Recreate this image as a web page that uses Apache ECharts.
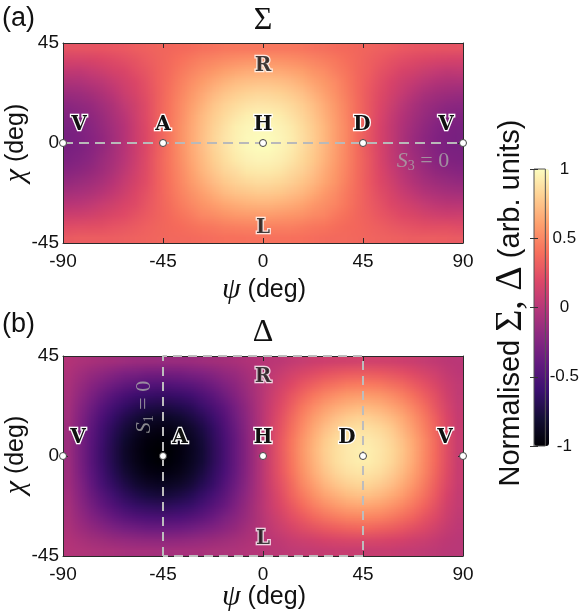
<!DOCTYPE html>
<html>
<head>
<meta charset="utf-8">
<script src="https://cdn.jsdelivr.net/npm/echarts@6/dist/echarts.min.js"></script>
<style>
  html, body { margin: 0; padding: 0; background: #fff; }
  #wrap { position: relative; width: 582px; height: 616px; }
  #chart { position: absolute; left: 0; top: 0; width: 582px; height: 616px; z-index: 2; }
  .heat { position: absolute; transform-origin: 0 0; z-index: 1; }
</style>
</head>
<body>
<div id="wrap">
  <div id="heatA" class="heat"></div>
  <div id="heatB" class="heat"></div>
  <div id="chart"></div>
</div>
<script>
// cell centres (deg)
const psiCenters = [-87.5,-82.5,-77.5,-72.5,-67.5,-62.5,-57.5,-52.5,-47.5,-42.5,-37.5,-32.5,-27.5,-22.5,-17.5,-12.5,-7.5,-2.5,
                    2.5,7.5,12.5,17.5,22.5,27.5,32.5,37.5,42.5,47.5,52.5,57.5,62.5,67.5,72.5,77.5,82.5,87.5];
const chiCenters = [-42.5,-37.5,-32.5,-27.5,-22.5,-17.5,-12.5,-7.5,-2.5,2.5,7.5,12.5,17.5,22.5,27.5,32.5,37.5,42.5];

// Sigma, rows from chi = -42.5 (bottom) to 42.5 (top)
const sigmaRows = [
  [0.29,0.30,0.30,0.30,0.31,0.32,0.33,0.34,0.35,0.36,0.37,0.37,0.38,0.39,0.40,0.40,0.41,0.41,0.41,0.41,0.40,0.40,0.39,0.38,0.37,0.37,0.36,0.35,0.34,0.33,0.32,0.31,0.30,0.30,0.30,0.29],
  [0.18,0.19,0.20,0.21,0.23,0.25,0.28,0.31,0.34,0.37,0.39,0.42,0.45,0.47,0.49,0.50,0.51,0.52,0.52,0.51,0.50,0.49,0.47,0.45,0.42,0.39,0.37,0.34,0.31,0.28,0.25,0.23,0.21,0.20,0.19,0.18],
  [0.08,0.08,0.10,0.13,0.16,0.19,0.23,0.28,0.33,0.37,0.42,0.47,0.51,0.54,0.58,0.60,0.62,0.62,0.62,0.62,0.60,0.58,0.54,0.51,0.47,0.42,0.37,0.33,0.28,0.23,0.19,0.16,0.13,0.10,0.08,0.08],
  [-0.02,-0.01,0.01,0.05,0.09,0.14,0.19,0.25,0.32,0.38,0.45,0.51,0.56,0.61,0.66,0.69,0.71,0.72,0.72,0.71,0.69,0.66,0.61,0.56,0.51,0.45,0.38,0.32,0.25,0.19,0.14,0.09,0.05,0.01,-0.01,-0.02],
  [-0.11,-0.09,-0.07,-0.03,0.03,0.09,0.16,0.23,0.31,0.39,0.47,0.55,0.61,0.68,0.73,0.77,0.79,0.81,0.81,0.79,0.77,0.73,0.68,0.61,0.55,0.47,0.39,0.31,0.23,0.16,0.09,0.03,-0.03,-0.07,-0.09,-0.11],
  [-0.18,-0.16,-0.13,-0.09,-0.03,0.05,0.13,0.21,0.30,0.40,0.49,0.58,0.66,0.73,0.79,0.83,0.86,0.88,0.88,0.86,0.83,0.79,0.73,0.66,0.58,0.49,0.40,0.30,0.21,0.13,0.05,-0.03,-0.09,-0.13,-0.16,-0.18],
  [-0.24,-0.22,-0.18,-0.13,-0.07,0.01,0.10,0.20,0.30,0.40,0.50,0.60,0.69,0.77,0.83,0.88,0.92,0.94,0.94,0.92,0.88,0.83,0.77,0.69,0.60,0.50,0.40,0.30,0.20,0.10,0.01,-0.07,-0.13,-0.18,-0.22,-0.24],
  [-0.28,-0.26,-0.22,-0.16,-0.09,-0.01,0.08,0.19,0.30,0.41,0.51,0.62,0.71,0.79,0.86,0.92,0.96,0.98,0.98,0.96,0.92,0.86,0.79,0.71,0.62,0.51,0.41,0.30,0.19,0.08,-0.01,-0.09,-0.16,-0.22,-0.26,-0.28],
  [-0.29,-0.28,-0.24,-0.18,-0.11,-0.02,0.08,0.18,0.29,0.41,0.52,0.62,0.72,0.81,0.88,0.94,0.98,0.99,0.99,0.98,0.94,0.88,0.81,0.72,0.62,0.52,0.41,0.29,0.18,0.08,-0.02,-0.11,-0.18,-0.24,-0.28,-0.29],
  [-0.29,-0.28,-0.24,-0.18,-0.11,-0.02,0.08,0.18,0.29,0.41,0.52,0.62,0.72,0.81,0.88,0.94,0.98,0.99,0.99,0.98,0.94,0.88,0.81,0.72,0.62,0.52,0.41,0.29,0.18,0.08,-0.02,-0.11,-0.18,-0.24,-0.28,-0.29],
  [-0.28,-0.26,-0.22,-0.16,-0.09,-0.01,0.08,0.19,0.30,0.41,0.51,0.62,0.71,0.79,0.86,0.92,0.96,0.98,0.98,0.96,0.92,0.86,0.79,0.71,0.62,0.51,0.41,0.30,0.19,0.08,-0.01,-0.09,-0.16,-0.22,-0.26,-0.28],
  [-0.24,-0.22,-0.18,-0.13,-0.07,0.01,0.10,0.20,0.30,0.40,0.50,0.60,0.69,0.77,0.83,0.88,0.92,0.94,0.94,0.92,0.88,0.83,0.77,0.69,0.60,0.50,0.40,0.30,0.20,0.10,0.01,-0.07,-0.13,-0.18,-0.22,-0.24],
  [-0.18,-0.16,-0.13,-0.09,-0.03,0.05,0.13,0.21,0.30,0.40,0.49,0.58,0.66,0.73,0.79,0.83,0.86,0.88,0.88,0.86,0.83,0.79,0.73,0.66,0.58,0.49,0.40,0.30,0.21,0.13,0.05,-0.03,-0.09,-0.13,-0.16,-0.18],
  [-0.11,-0.09,-0.07,-0.03,0.03,0.09,0.16,0.23,0.31,0.39,0.47,0.55,0.61,0.68,0.73,0.77,0.79,0.81,0.81,0.79,0.77,0.73,0.68,0.61,0.55,0.47,0.39,0.31,0.23,0.16,0.09,0.03,-0.03,-0.07,-0.09,-0.11],
  [-0.02,-0.01,0.01,0.05,0.09,0.14,0.19,0.25,0.32,0.38,0.45,0.51,0.56,0.61,0.66,0.69,0.71,0.72,0.72,0.71,0.69,0.66,0.61,0.56,0.51,0.45,0.38,0.32,0.25,0.19,0.14,0.09,0.05,0.01,-0.01,-0.02],
  [0.08,0.08,0.10,0.13,0.16,0.19,0.23,0.28,0.33,0.37,0.42,0.47,0.51,0.54,0.58,0.60,0.62,0.62,0.62,0.62,0.60,0.58,0.54,0.51,0.47,0.42,0.37,0.33,0.28,0.23,0.19,0.16,0.13,0.10,0.08,0.08],
  [0.18,0.19,0.20,0.21,0.23,0.25,0.28,0.31,0.34,0.37,0.39,0.42,0.45,0.47,0.49,0.50,0.51,0.52,0.52,0.51,0.50,0.49,0.47,0.45,0.42,0.39,0.37,0.34,0.31,0.28,0.25,0.23,0.21,0.20,0.19,0.18],
  [0.29,0.30,0.30,0.30,0.31,0.32,0.33,0.34,0.35,0.36,0.37,0.37,0.38,0.39,0.40,0.40,0.41,0.41,0.41,0.41,0.40,0.40,0.39,0.38,0.37,0.37,0.36,0.35,0.34,0.33,0.32,0.31,0.30,0.30,0.30,0.29]
];

// Delta, same layout
const deltaRows = [
  [-0.01,-0.02,-0.04,-0.05,-0.06,-0.07,-0.08,-0.08,-0.09,-0.09,-0.08,-0.08,-0.07,-0.06,-0.05,-0.04,-0.02,-0.01,0.01,0.02,0.04,0.05,0.06,0.07,0.08,0.08,0.08,0.08,0.08,0.08,0.07,0.06,0.05,0.04,0.02,0.01],
  [-0.02,-0.07,-0.11,-0.15,-0.18,-0.21,-0.23,-0.25,-0.26,-0.26,-0.25,-0.23,-0.21,-0.18,-0.15,-0.11,-0.07,-0.02,0.02,0.06,0.10,0.14,0.17,0.20,0.22,0.24,0.25,0.25,0.24,0.22,0.20,0.17,0.14,0.10,0.06,0.02],
  [-0.04,-0.11,-0.18,-0.24,-0.30,-0.35,-0.38,-0.41,-0.42,-0.42,-0.41,-0.38,-0.35,-0.30,-0.24,-0.18,-0.11,-0.04,0.04,0.10,0.17,0.23,0.28,0.33,0.36,0.39,0.40,0.40,0.39,0.36,0.33,0.28,0.23,0.17,0.10,0.04],
  [-0.05,-0.15,-0.24,-0.33,-0.41,-0.47,-0.52,-0.55,-0.57,-0.57,-0.55,-0.52,-0.47,-0.41,-0.33,-0.24,-0.15,-0.05,0.05,0.14,0.23,0.31,0.39,0.45,0.49,0.53,0.54,0.54,0.53,0.49,0.45,0.39,0.31,0.23,0.14,0.05],
  [-0.06,-0.18,-0.30,-0.41,-0.50,-0.58,-0.64,-0.68,-0.70,-0.70,-0.68,-0.64,-0.58,-0.50,-0.41,-0.30,-0.18,-0.06,0.06,0.17,0.28,0.39,0.48,0.55,0.61,0.65,0.67,0.67,0.65,0.61,0.55,0.48,0.39,0.28,0.17,0.06],
  [-0.07,-0.21,-0.35,-0.47,-0.58,-0.67,-0.74,-0.79,-0.82,-0.82,-0.79,-0.74,-0.67,-0.58,-0.47,-0.35,-0.21,-0.07,0.07,0.20,0.33,0.45,0.55,0.64,0.70,0.75,0.78,0.78,0.75,0.70,0.64,0.55,0.45,0.33,0.20,0.07],
  [-0.08,-0.23,-0.38,-0.52,-0.64,-0.74,-0.82,-0.88,-0.90,-0.90,-0.88,-0.82,-0.74,-0.64,-0.52,-0.38,-0.23,-0.08,0.08,0.22,0.36,0.49,0.61,0.70,0.78,0.83,0.86,0.86,0.83,0.78,0.70,0.61,0.49,0.36,0.22,0.08],
  [-0.08,-0.25,-0.41,-0.55,-0.68,-0.79,-0.88,-0.93,-0.96,-0.96,-0.93,-0.88,-0.79,-0.68,-0.55,-0.41,-0.25,-0.08,0.08,0.24,0.39,0.53,0.65,0.75,0.83,0.89,0.91,0.91,0.89,0.83,0.75,0.65,0.53,0.39,0.24,0.08],
  [-0.09,-0.26,-0.42,-0.57,-0.70,-0.82,-0.90,-0.96,-0.99,-0.99,-0.96,-0.90,-0.82,-0.70,-0.57,-0.42,-0.26,-0.09,0.08,0.25,0.40,0.54,0.67,0.78,0.86,0.91,0.94,0.94,0.91,0.86,0.78,0.67,0.54,0.40,0.25,0.08],
  [-0.09,-0.26,-0.42,-0.57,-0.70,-0.82,-0.90,-0.96,-0.99,-0.99,-0.96,-0.90,-0.82,-0.70,-0.57,-0.42,-0.26,-0.09,0.08,0.25,0.40,0.54,0.67,0.78,0.86,0.91,0.94,0.94,0.91,0.86,0.78,0.67,0.54,0.40,0.25,0.08],
  [-0.08,-0.25,-0.41,-0.55,-0.68,-0.79,-0.88,-0.93,-0.96,-0.96,-0.93,-0.88,-0.79,-0.68,-0.55,-0.41,-0.25,-0.08,0.08,0.24,0.39,0.53,0.65,0.75,0.83,0.89,0.91,0.91,0.89,0.83,0.75,0.65,0.53,0.39,0.24,0.08],
  [-0.08,-0.23,-0.38,-0.52,-0.64,-0.74,-0.82,-0.88,-0.90,-0.90,-0.88,-0.82,-0.74,-0.64,-0.52,-0.38,-0.23,-0.08,0.08,0.22,0.36,0.49,0.61,0.70,0.78,0.83,0.86,0.86,0.83,0.78,0.70,0.61,0.49,0.36,0.22,0.08],
  [-0.07,-0.21,-0.35,-0.47,-0.58,-0.67,-0.74,-0.79,-0.82,-0.82,-0.79,-0.74,-0.67,-0.58,-0.47,-0.35,-0.21,-0.07,0.07,0.20,0.33,0.45,0.55,0.64,0.70,0.75,0.78,0.78,0.75,0.70,0.64,0.55,0.45,0.33,0.20,0.07],
  [-0.06,-0.18,-0.30,-0.41,-0.50,-0.58,-0.64,-0.68,-0.70,-0.70,-0.68,-0.64,-0.58,-0.50,-0.41,-0.30,-0.18,-0.06,0.06,0.17,0.28,0.39,0.48,0.55,0.61,0.65,0.67,0.67,0.65,0.61,0.55,0.48,0.39,0.28,0.17,0.06],
  [-0.05,-0.15,-0.24,-0.33,-0.41,-0.47,-0.52,-0.55,-0.57,-0.57,-0.55,-0.52,-0.47,-0.41,-0.33,-0.24,-0.15,-0.05,0.05,0.14,0.23,0.31,0.39,0.45,0.49,0.53,0.54,0.54,0.53,0.49,0.45,0.39,0.31,0.23,0.14,0.05],
  [-0.04,-0.11,-0.18,-0.24,-0.30,-0.35,-0.38,-0.41,-0.42,-0.42,-0.41,-0.38,-0.35,-0.30,-0.24,-0.18,-0.11,-0.04,0.04,0.10,0.17,0.23,0.28,0.33,0.36,0.39,0.40,0.40,0.39,0.36,0.33,0.28,0.23,0.17,0.10,0.04],
  [-0.02,-0.07,-0.11,-0.15,-0.18,-0.21,-0.23,-0.25,-0.26,-0.26,-0.25,-0.23,-0.21,-0.18,-0.15,-0.11,-0.07,-0.02,0.02,0.06,0.10,0.14,0.17,0.20,0.22,0.24,0.25,0.25,0.24,0.22,0.20,0.17,0.14,0.10,0.06,0.02],
  [-0.01,-0.02,-0.04,-0.05,-0.06,-0.07,-0.08,-0.08,-0.09,-0.09,-0.08,-0.08,-0.07,-0.06,-0.05,-0.04,-0.02,-0.01,0.01,0.02,0.04,0.05,0.06,0.07,0.08,0.08,0.08,0.08,0.08,0.08,0.07,0.06,0.05,0.04,0.02,0.01]
];

// polarisation states on the chi = 0 line
const stateNames = ['V', 'A', 'H', 'D', 'V'];
const statePsi = [-90, -45, 0, 45, 90];
const stateChi = [0, 0, 0, 0, 0];
// circular states (labels only)
const poleNames = ['R', 'L'];
const polePsi = [0, 0];
const poleChi = [45, -45];
// S3 = 0 line in (a), S1 = 0 box in (b)
const s3LinePsi = [-90, 90];
const s3LineChi = [0, 0];
const s1BoxPsi = [-45, -45, 45, 45, -45];
const s1BoxChi = [-45, 45, 45, -45, -45];

const magma = ['#000004','#140e36','#3b0f70','#641a80','#8c2981','#b73779','#de4968','#f7705c','#fe9f6d','#fecf92','#fcfdbf'];

const SANS = '"Liberation Sans", Arial, sans-serif';
const SERIF = '"Liberation Serif", "DejaVu Serif", serif';

const plotA = {left: 63, top: 43, width: 400, height: 200};
const plotB = {left: 63, top: 356, width: 400, height: 200};
const frameColor = '#2a2a2a';

function zip(xs, ys) { return xs.map((x, i) => [x, ys[i]]); }

// heatmaps: one pixel per cell, then the canvas is stretched over the plot
// box so the browser smooths between cell centres (like shading interp)
function drawHeat(id, rows, plot) {
  const el = document.getElementById(id);
  const nx = psiCenters.length, ny = chiCenters.length;
  el.style.left = plot.left + 'px';
  el.style.top = plot.top + 'px';
  el.style.width = nx + 'px';
  el.style.height = ny + 'px';
  el.style.transform = 'scale(' + (plot.width / nx) + ',' + (plot.height / ny) + ')';
  const cells = [];
  for (let j = rows.length - 1; j >= 0; j--) {
    rows[j].forEach((v, i) => cells.push([i, j, v]));
  }
  const c = echarts.init(el, null, {width: nx, height: ny, devicePixelRatio: 1});
  c.setOption({
    animation: false,
    grid: {left: 0, right: 0, top: 0, bottom: 0},
    xAxis: {type: 'category', data: psiCenters, show: false},
    yAxis: {type: 'category', data: chiCenters, show: false},
    visualMap: {show: false, min: -1, max: 1, inRange: {color: magma}},
    series: [{type: 'heatmap', data: cells, progressive: 0, emphasis: {disabled: true}}]
  });
}
drawHeat('heatA', sigmaRows, plotA);
drawHeat('heatB', deltaRows, plotB);

const chart = echarts.init(document.getElementById('chart'));

function valueX(grid, pos, labels) {
  return {
    type: 'value', gridIndex: grid, position: pos, min: -90, max: 90, interval: 45, z: 6,
    axisLine: {show: true, onZero: false, lineStyle: {color: frameColor, width: 1}},
    axisTick: {show: true, inside: true, length: 5, lineStyle: {color: frameColor}},
    axisLabel: {show: labels, margin: 9, fontSize: 19, fontFamily: SANS, color: '#111'},
    splitLine: {show: false}
  };
}
function valueY(grid, pos, labels) {
  return {
    type: 'value', gridIndex: grid, position: pos, min: -45, max: 45, interval: 45, z: 6,
    axisLine: {show: true, onZero: false, lineStyle: {color: frameColor, width: 1}},
    axisTick: {show: true, inside: true, length: 5, lineStyle: {color: frameColor}},
    axisLabel: {show: labels, margin: 4, fontSize: 19, fontFamily: SANS, color: '#111'},
    splitLine: {show: false}
  };
}

const letterLabel = {
  show: true, position: 'inside',
  fontFamily: '"DejaVu Serif", serif', fontWeight: 'bold', fontSize: 20,
  color: '#111', textBorderColor: '#fff', textBorderWidth: 2.5
};

function stateSeries(xi, yi, offsets) {
  return {
    type: 'scatter', xAxisIndex: xi, yAxisIndex: yi, z: 8,
    symbol: 'circle', symbolSize: 7,
    itemStyle: {color: '#fff', borderColor: '#444', borderWidth: 1, opacity: 1},
    label: Object.assign({}, letterLabel, {formatter: p => stateNames[p.dataIndex]}),
    data: zip(statePsi, stateChi).map((v, i) => ({value: v, label: {offset: offsets[i]}}))
  };
}
function poleSeries(xi, yi, offsets) {
  return {
    type: 'scatter', xAxisIndex: xi, yAxisIndex: yi, z: 8, symbolSize: 0,
    label: Object.assign({}, letterLabel, {formatter: p => poleNames[p.dataIndex]}),
    data: zip(polePsi, poleChi).map((v, i) => ({value: v, label: {offset: offsets[i]}}))
  };
}

const greyText = '#a9a9a9';
const eqRich = {
  s: {fontFamily: SERIF, fontStyle: 'italic', fontSize: 22, color: greyText},
  d: {fontFamily: SERIF, fontSize: 14, color: greyText, padding: [10, 0, 0, 0]},
  e: {fontFamily: SERIF, fontSize: 22, color: greyText}
};
const nameRich = {m: {fontFamily: SERIF, fontStyle: 'italic', fontSize: 30}};

const option = {
  animation: false,
  backgroundColor: 'transparent',
  grid: [
    Object.assign({}, plotA),
    Object.assign({}, plotB),
    {left: 534, top: 169, width: 15, height: 277, show: true, borderColor: '#555', borderWidth: 1, z: 10}
  ],
  xAxis: [
    valueX(0, 'bottom', true), valueX(0, 'top', false),
    valueX(1, 'bottom', true), valueX(1, 'top', false),
    {type: 'value', gridIndex: 2, show: false, min: 0, max: 1}
  ],
  yAxis: [
    valueY(0, 'left', true), valueY(0, 'right', false),
    valueY(1, 'left', true), valueY(1, 'right', false),
    {
      type: 'value', gridIndex: 2, position: 'right', min: -1, max: 1, interval: 0.5, z: 11,
      axisLine: {show: false},
      axisTick: {show: true, inside: true, length: 4, lineStyle: {color: '#333'}},
      axisLabel: {show: true, margin: 19, align: 'center', fontSize: 17, fontFamily: SANS, color: '#111'},
      splitLine: {show: false}
    },
    {
      type: 'value', gridIndex: 2, position: 'left', min: -1, max: 1, interval: 0.5, z: 11,
      axisLine: {show: false},
      axisTick: {show: true, inside: true, length: 4, lineStyle: {color: '#333'}},
      axisLabel: {show: false},
      splitLine: {show: false}
    }
  ],
  visualMap: {
    type: 'continuous', seriesIndex: [8], min: -1, max: 1,
    calculable: false, show: true, orient: 'vertical',
    left: 534, top: 169, itemWidth: 15, itemHeight: 277, padding: 0,
    text: null, showLabel: false,
    inRange: {color: magma}
  },
  series: [
    {
      type: 'line', xAxisIndex: 0, yAxisIndex: 0, z: 7, symbol: 'none', clip: false,
      lineStyle: {color: '#b9b9b9', width: 2, type: [10, 6]},
      data: zip(s3LinePsi, s3LineChi)
    },
    {
      type: 'line', xAxisIndex: 2, yAxisIndex: 2, z: 7, symbol: 'none', clip: false,
      lineStyle: {color: '#bdbdbd', width: 2, type: [9, 6]},
      data: zip(s1BoxPsi, s1BoxChi)
    },
    stateSeries(0, 0, [[16, -18], [0, -18], [0, -18], [-1, -18], [-17, -18]]),
    stateSeries(2, 2, [[15, -18], [17, -18], [0, -18], [-16, -18], [-18, -18]]),
    poleSeries(0, 0, [[0, 23], [0, -15]]),
    poleSeries(2, 2, [[0, 21], [0, -17]]),
    {
      type: 'scatter', xAxisIndex: 0, yAxisIndex: 0, z: 8, symbolSize: 0,
      label: {show: true, position: 'inside', offset: [-40, 18], formatter: '{s|S}{d|3}{e| = 0}', rich: eqRich},
      data: [[90, 0]]
    },
    {
      type: 'scatter', xAxisIndex: 2, yAxisIndex: 2, z: 8, symbolSize: 0,
      label: {show: true, position: 'inside', rotate: 90, offset: [49, -19], formatter: '{s|S}{d|1}{e| = 0}', rich: eqRich},
      data: [[-45, 0]]
    },
    // colour bar target (values come from the heatmaps above)
    {type: 'scatter', xAxisIndex: 4, yAxisIndex: 4, symbolSize: 0, data: []}
  ],
  graphic: [
    {type: 'text', x: 2, y: 19, style: {text: '(a)', fontFamily: SANS, fontSize: 27, fill: '#111', align: 'left', verticalAlign: 'middle'}},
    {type: 'text', x: 2, y: 325, style: {text: '(b)', fontFamily: SANS, fontSize: 27, fill: '#111', align: 'left', verticalAlign: 'middle'}},
    {type: 'text', x: 263, y: 21, style: {text: 'Σ', fontFamily: SERIF, fontSize: 32, fill: '#111', align: 'center', verticalAlign: 'middle'}},
    {type: 'text', x: 263, y: 333, style: {text: 'Δ', fontFamily: SERIF, fontSize: 32, fill: '#111', align: 'center', verticalAlign: 'middle'}},
    {type: 'text', x: 264, y: 290, style: {text: '{m|ψ} (deg)', rich: nameRich, fontFamily: SANS, fontSize: 25, fill: '#111', align: 'center', verticalAlign: 'middle'}},
    {type: 'text', x: 264, y: 597, style: {text: '{m|ψ} (deg)', rich: nameRich, fontFamily: SANS, fontSize: 25, fill: '#111', align: 'center', verticalAlign: 'middle'}},
    {type: 'text', x: 16, y: 143, rotation: Math.PI / 2, style: {text: '{m|χ} (deg)', rich: nameRich, fontFamily: SANS, fontSize: 25, fill: '#111', align: 'center', verticalAlign: 'middle'}},
    {type: 'text', x: 16, y: 455, rotation: Math.PI / 2, style: {text: '{m|χ} (deg)', rich: nameRich, fontFamily: SANS, fontSize: 25, fill: '#111', align: 'center', verticalAlign: 'middle'}},
    {type: 'text', x: 511, y: 303, rotation: Math.PI / 2, style: {text: 'Normalised {g|Σ, Δ} (arb. units)', rich: {g: {fontFamily: SERIF, fontSize: 38}}, fontFamily: SANS, fontSize: 29, fill: '#111', align: 'center', verticalAlign: 'middle'}}
  ]
};

chart.setOption(option);
</script>
</body>
</html>
